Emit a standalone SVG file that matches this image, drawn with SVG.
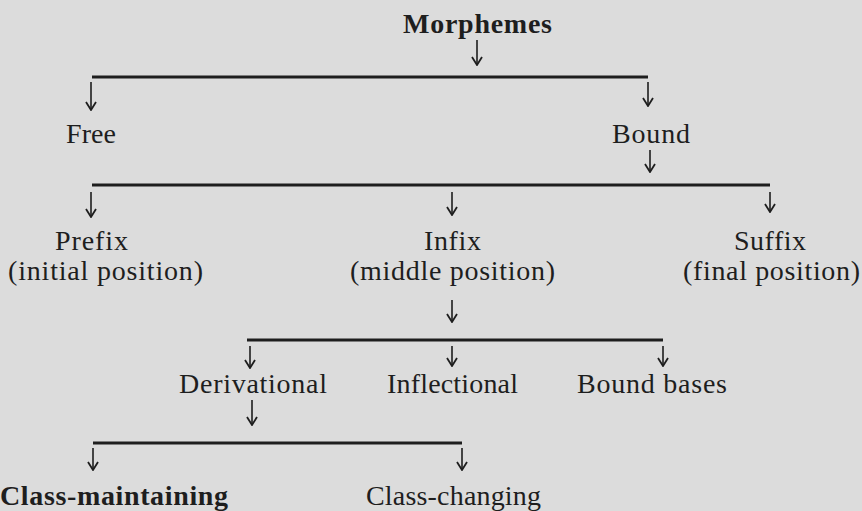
<svg xmlns="http://www.w3.org/2000/svg" width="862" height="511" viewBox="0 0 862 511">
<defs>
<marker id="ah" viewBox="0 0 10 12" refX="9" refY="6" markerWidth="10" markerHeight="12" markerUnits="userSpaceOnUse" orient="auto">
<path d="M1,1 L9,6 L1,11" fill="none" stroke="#1e1e1e" stroke-width="1.8"/>
</marker>
</defs>
<style>
.t{font-family:"Liberation Serif","Times New Roman",serif;font-size:28px;fill:#1e1e1e}
.b{font-weight:bold}
.bar{stroke:#1e1e1e;stroke-width:3;fill:none}
.arr{stroke:#1e1e1e;stroke-width:1.6;fill:none;marker-end:url(#ah)}
</style>
<rect width="862" height="511" fill="#dcdcdc"/>
<g id="connectors">
<line class="arr" x1="477" y1="40" x2="477" y2="65"/>
<line class="bar" x1="92" y1="77" x2="648" y2="77"/>
<line class="arr" x1="91" y1="82" x2="91" y2="110"/>
<line class="arr" x1="648" y1="82" x2="648" y2="106"/>
<line class="arr" x1="650" y1="150" x2="650" y2="172"/>
<line class="bar" x1="92" y1="185" x2="770" y2="185"/>
<line class="arr" x1="91" y1="192" x2="91" y2="217"/>
<line class="arr" x1="452" y1="192" x2="452" y2="215"/>
<line class="arr" x1="770" y1="192" x2="770" y2="212"/>
<line class="arr" x1="452" y1="300" x2="452" y2="322"/>
<line class="bar" x1="247" y1="340" x2="663" y2="340"/>
<line class="arr" x1="250" y1="346" x2="250" y2="368"/>
<line class="arr" x1="452" y1="346" x2="452" y2="366"/>
<line class="arr" x1="663" y1="346" x2="663" y2="366"/>
<line class="arr" x1="252" y1="400" x2="252" y2="425"/>
<line class="bar" x1="93" y1="443" x2="462" y2="443"/>
<line class="arr" x1="93" y1="448" x2="93" y2="470"/>
<line class="arr" x1="462" y1="448" x2="462" y2="470"/>
</g>
<g id="morphemes"><text class="t b" x="403" y="33" font-size="26" textLength="149">Morphemes</text></g>
<g id="free"><text class="t" x="66" y="143" textLength="50">Free</text></g>
<g id="bound"><text class="t" x="612" y="143" textLength="78">Bound</text></g>
<g id="prefix"><text class="t" x="55" y="250" textLength="73">Prefix</text><text class="t" x="8" y="280" textLength="195">(initial position)</text></g>
<g id="infix"><text class="t" x="424" y="250" textLength="57">Infix</text><text class="t" x="350" y="280" textLength="205">(middle position)</text></g>
<g id="suffix"><text class="t" x="734" y="250" textLength="72">Suffix</text><text class="t" x="683" y="280" textLength="177">(final position)</text></g>
<g id="derivational"><text class="t" x="179" y="393" textLength="148">Derivational</text></g>
<g id="inflectional"><text class="t" x="387" y="393" textLength="131">Inflectional</text></g>
<g id="bound-bases"><text class="t" x="577" y="393" textLength="150">Bound bases</text></g>
<g id="class-maintaining"><text class="t b" x="0" y="505" textLength="228">Class-maintaining</text></g>
<g id="class-changing"><text class="t" x="366" y="505" textLength="175">Class-changing</text></g>
</svg>
